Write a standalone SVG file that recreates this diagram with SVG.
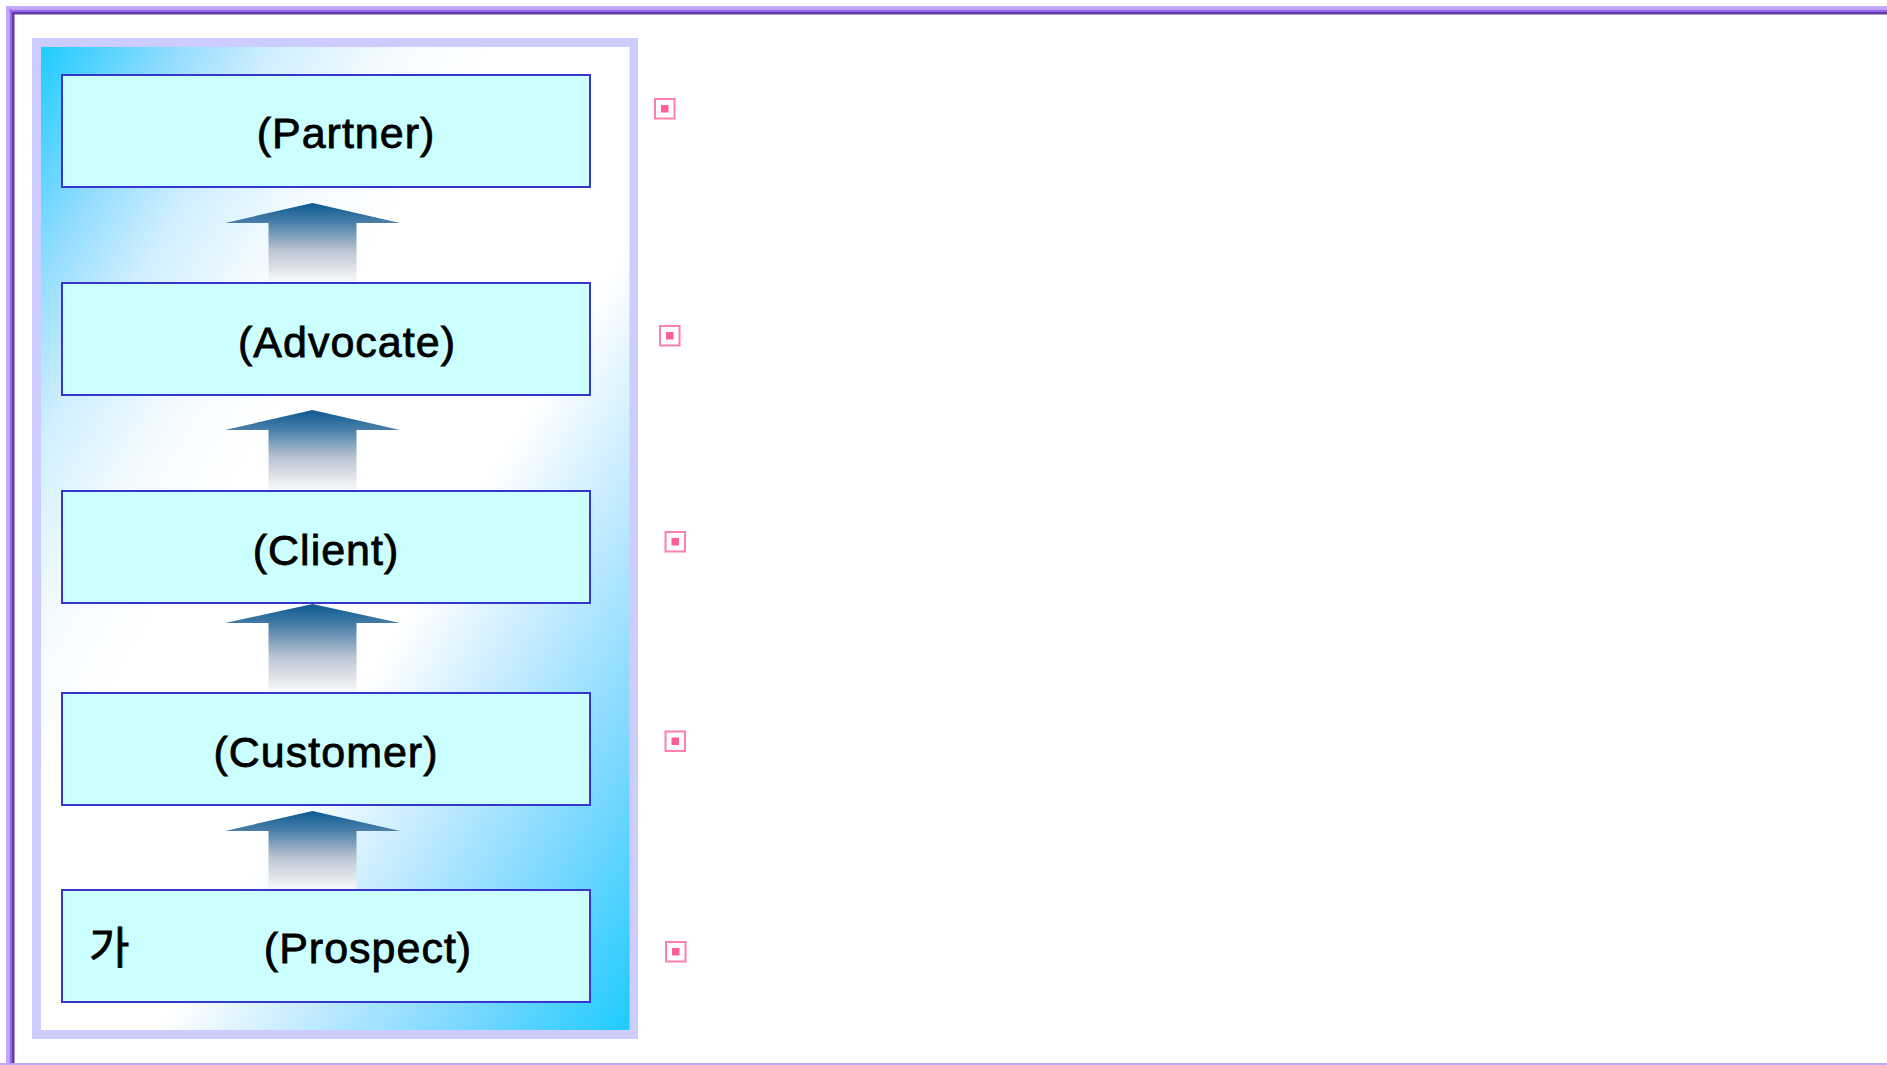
<svg xmlns="http://www.w3.org/2000/svg" width="1887" height="1065" viewBox="0 0 1887 1065">
  <defs>
    <style>
      .box { fill: #ccffff; stroke: #3636cc; stroke-width: 2; }
      .lbl { font-family: "Liberation Sans", Arial, "Noto Sans CJK KR", sans-serif; font-size: 43px; fill: #000; stroke: #000; stroke-width: 0.8px; letter-spacing: 1px; }
      .ko { font-family: "Noto Sans CJK KR", "Liberation Sans", sans-serif; font-size: 44px; fill: #000; stroke: #000; stroke-width: 0.8px; }
      .bullet-o { fill: none; stroke: #ff7fab; stroke-width: 2; }
      .bullet-i { fill: #ff5f96; }
      .up { fill: url(#arrowFill); }
    </style>
    <!-- diagonal cyan / white / cyan wash behind the ladder -->
    <linearGradient id="panelFill" x1="0" y1="0" x2="1" y2="1">
      <stop offset="0" stop-color="#1ecbff"/>
      <stop offset="0.12" stop-color="#95ddff"/>
      <stop offset="0.2" stop-color="#d0efff"/>
      <stop offset="0.3" stop-color="#f4fbff"/>
      <stop offset="0.38" stop-color="#ffffff"/>
      <stop offset="0.6" stop-color="#ffffff"/>
      <stop offset="0.7" stop-color="#cdeeff"/>
      <stop offset="0.85" stop-color="#7dd8ff"/>
      <stop offset="1" stop-color="#1ecbff"/>
    </linearGradient>
    <!-- steel-blue to white fill for the upward arrows -->
    <linearGradient id="arrowFill" x1="0" y1="0" x2="0" y2="1">
      <stop offset="0" stop-color="#0b5a90"/>
      <stop offset="0.25" stop-color="#4c80aa"/>
      <stop offset="0.6" stop-color="#bcc6d3"/>
      <stop offset="1" stop-color="#fbfbfc"/>
    </linearGradient>
  </defs>

  <rect width="1887" height="1065" fill="#ffffff"/>

  <!-- bevelled page frame -->
  <g id="frame">
    <rect x="6" y="6" width="1890" height="3.5" fill="#c2a8fa"/>
    <rect x="6" y="6" width="3.5" height="1060" fill="#c2a8fa"/>
    <rect x="0" y="1063" width="1887" height="2" fill="#c2a8fa"/>
    <rect x="9.5" y="9.5" width="1890" height="2.5" fill="#9966ee"/>
    <rect x="9.5" y="9.5" width="2.5" height="1054" fill="#9966ee"/>
    <rect x="12" y="12" width="1880" height="2.5" fill="#5f3b9f"/>
    <rect x="12" y="12" width="2.5" height="1051" fill="#5f3b9f"/>
  </g>

  <!-- ladder panel -->
  <g id="panel">
    <rect x="32" y="38" width="606" height="1001" fill="#ccccff"/>
    <rect x="41" y="47" width="588.5" height="983" fill="url(#panelFill)"/>
  </g>

  <!-- upward arrows between stages -->
  <g id="connectors">
    <path class="up" d="M312.5 203 L400 223 L356.5 223 L356.5 283 L268.5 283 L268.5 223 L225 223 Z"/>
    <path class="up" d="M312.5 410 L400 430 L356.5 430 L356.5 491 L268.5 491 L268.5 430 L225 430 Z"/>
    <path class="up" d="M312.5 604 L400 623 L356.5 623 L356.5 693 L268.5 693 L268.5 623 L225 623 Z"/>
    <path class="up" d="M312.5 811 L400 831 L356.5 831 L356.5 890 L268.5 890 L268.5 831 L225 831 Z"/>
  </g>

  <g id="partner">
    <rect class="box" x="62" y="75" width="528" height="112"/>
    <text class="lbl" x="346" y="148" text-anchor="middle">(Partner)</text>
  </g>
  <g id="advocate">
    <rect class="box" x="62" y="283" width="528" height="112"/>
    <text class="lbl" x="347" y="357" text-anchor="middle">(Advocate)</text>
  </g>
  <g id="client">
    <rect class="box" x="62" y="491" width="528" height="112"/>
    <text class="lbl" x="326" y="565" text-anchor="middle">(Client)</text>
  </g>
  <g id="customer">
    <rect class="box" x="62" y="693" width="528" height="112"/>
    <text class="lbl" x="326" y="767" text-anchor="middle">(Customer)</text>
  </g>
  <g id="prospect">
    <rect class="box" x="62" y="890" width="528" height="112"/>
    <text class="ko" x="89" y="964">가</text>
    <text class="lbl" x="368" y="963" text-anchor="middle">(Prospect)</text>
  </g>

  <!-- bullet markers to the right of each stage -->
  <g id="bullets">
    <rect class="bullet-o" x="655" y="99" width="19.5" height="19.5"/>
    <rect class="bullet-i" x="661" y="105" width="7.5" height="7.5"/>
    <rect class="bullet-o" x="660" y="326" width="19.5" height="19.5"/>
    <rect class="bullet-i" x="666" y="332" width="7.5" height="7.5"/>
    <rect class="bullet-o" x="665.5" y="532" width="19.5" height="19.5"/>
    <rect class="bullet-i" x="671.5" y="538" width="7.5" height="7.5"/>
    <rect class="bullet-o" x="665.5" y="731.5" width="19.5" height="19.5"/>
    <rect class="bullet-i" x="671.5" y="737.5" width="7.5" height="7.5"/>
    <rect class="bullet-o" x="666" y="942" width="19.5" height="19.5"/>
    <rect class="bullet-i" x="672" y="948" width="7.5" height="7.5"/>
  </g>
</svg>
